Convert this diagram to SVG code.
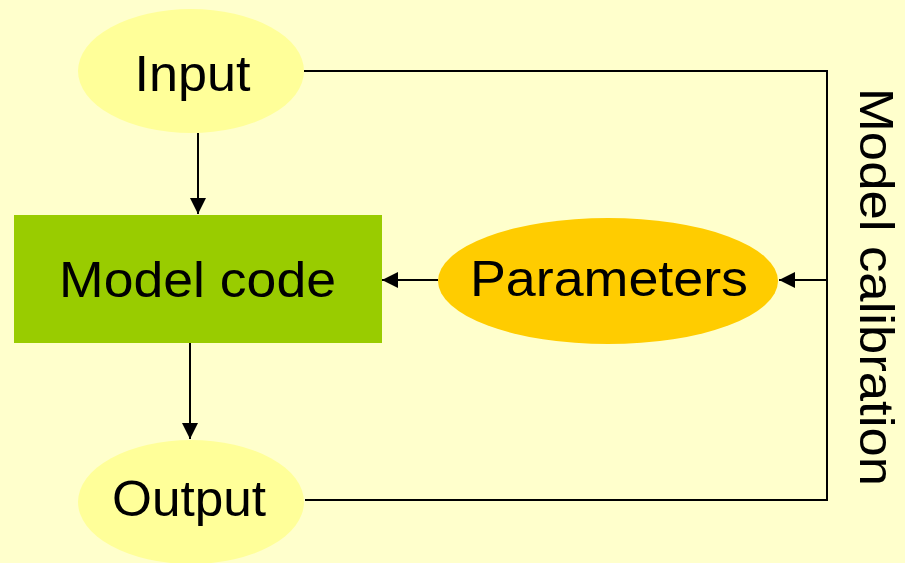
<svg xmlns="http://www.w3.org/2000/svg" width="905" height="563" viewBox="0 0 905 563">
  <style>
    .label { font-family: "Liberation Sans", Arial, sans-serif; font-size: 50px; fill: #000; text-anchor: middle; }
    .side { font-size: 49px; }
    .wire { fill: none; stroke: #000; stroke-width: 2; }
  </style>
  <defs>
    <marker id="arrow" viewBox="0 0 16 16" refX="16" refY="8" markerWidth="16" markerHeight="16" markerUnits="userSpaceOnUse" orient="auto">
      <path d="M0,0 L16,8 L0,16 Z" fill="#000"/>
    </marker>
  </defs>

  <rect width="905" height="563" fill="#FFFFCC"/>

  <g id="connectors">
    <line class="wire" x1="198" y1="133" x2="198" y2="214" marker-end="url(#arrow)"/>
    <line class="wire" x1="190" y1="343" x2="190" y2="439" marker-end="url(#arrow)"/>
    <line class="wire" x1="438" y1="280" x2="382" y2="280" marker-end="url(#arrow)"/>
    <polyline class="wire" points="304,71 827,71 827,500 305,500"/>
    <line class="wire" x1="827" y1="280" x2="779" y2="280" marker-end="url(#arrow)"/>
  </g>

  <g id="input">
    <ellipse cx="191" cy="71" rx="113" ry="62" fill="#FFFF99"/>
    <text class="label" x="192.5" y="90.5" textLength="116" lengthAdjust="spacingAndGlyphs">Input</text>
  </g>

  <g id="model-code">
    <rect x="14" y="215" width="368" height="128" fill="#99CC00"/>
    <text class="label" x="197.5" y="297" textLength="277" lengthAdjust="spacingAndGlyphs">Model code</text>
  </g>

  <g id="parameters">
    <ellipse cx="608" cy="281" rx="170" ry="63" fill="#FFCC00"/>
    <text class="label" x="609" y="296" textLength="278" lengthAdjust="spacingAndGlyphs">Parameters</text>
  </g>

  <g id="output">
    <ellipse cx="191" cy="502" rx="113" ry="62" fill="#FFFF99"/>
    <text class="label" x="189" y="516" textLength="154" lengthAdjust="spacingAndGlyphs">Output</text>
  </g>

  <g id="model-calibration">
    <text class="label side" transform="translate(860,287) rotate(90)" x="0" y="0" textLength="398" lengthAdjust="spacingAndGlyphs">Model calibration</text>
  </g>
</svg>
